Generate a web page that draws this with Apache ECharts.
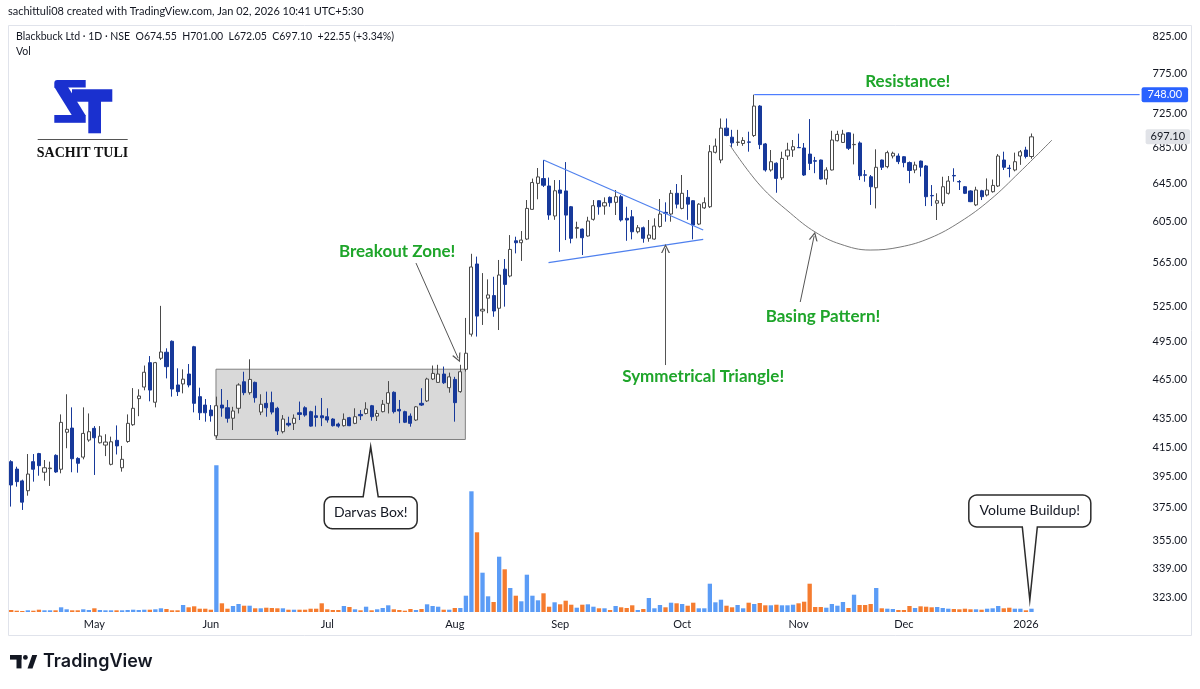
<!DOCTYPE html>
<html><head><meta charset="utf-8">
<script src="https://cdn.jsdelivr.net/npm/echarts@6/dist/echarts.min.js"></script>
<style>html,body{margin:0;padding:0;background:#fff;}#chart{width:1200px;height:689px;}</style>
</head><body><div id="chart"></div>
<script>
// ---------------- data ----------------
const firstDay = '2025-04-07';
const holidays = ['2025-04-10','2025-04-14','2025-04-18','2025-05-01','2025-08-15','2025-08-27','2025-10-02','2025-10-22','2025-11-05','2025-12-25'];
const blankSlots = 19;
const monthNames = ['Jan','Feb','Mar','Apr','May','Jun','Jul','Aug','Sep','Oct','Nov','Dec'];
const priceTicks = [825,775,725,685,645,605,565,525,495,465,435,415,395,375,355,339,323];

const open = [
405,400,392.2,385.8,405,410.5,397.9,400.3,409.3,399.9,
425.4,428.4,407.2,408.1,419.9,428.2,418,416.4,403.2,419.7,
400.9,418.9,430.8,450,458.8,477.9,447.3,481.4,486.3,495.3,
460.4,461.2,468.9,490.8,451.5,445.2,441.5,422.9,445.2,443.2,
435.5,442.8,462.9,454.5,462.4,440,446.5,447,442.8,425.8,
431.8,431.8,439.5,443.2,440.3,437.3,437.3,436.6,434.9,431.3,
430.1,435.9,431.8,438.3,439,444.7,437,440.3,446.5,454.8,
442,440.3,437.1,434.2,446.5,448.3,465,462.4,468.9,458.3,
464.7,455.3,472.6,501.2,563.6,521,532.3,534.6,523.4,558.7,
552.4,585.9,584,587.6,617.5,644.9,650.1,642.1,610.7,637.8,
636.8,620.2,598.2,597.5,590.6,607.3,626.5,621,630,624.8,
630.7,608.3,609.9,594.8,598.8,588.3,587.6,600.1,614.4,612.7,
634.3,618.5,630,626.5,602.5,619,620.2,679.3,670.6,707.3,
696.7,690.6,689.4,691.2,698.6,733.9,688.9,659.5,667,650.9,
675.1,681.9,684.8,684.2,677.3,669.8,670.6,649.6,659.5,692.6,
690.6,701.8,688,690,654.2,652.1,640.2,670.6,663.2,675.1,
675.1,674.3,667.7,659.5,669.4,664,632,623.9,623.9,634.3,
653.5,646.9,641.3,636.8,622.1,637,632.5,636,642.1,670.6,
661.6,659.5,675.1,681.9,674.55];
const close = [
389.5,391.7,378.5,396.7,399.9,402.3,400.9,400.7,398.1,432.5,
427.5,407,403.9,424.6,425.8,421.5,422.7,418.5,418.7,415.8,
406.6,431.8,442.8,452,470.3,456.5,477.9,486.5,474.7,457.3,
455.3,464.9,460.4,446.5,439.5,439.5,437.3,444.7,443,435.5,
440.8,460.4,454.5,464.7,450.7,445.8,443.2,440,426.3,434.9,
430.6,435.5,438.3,437.8,429.8,436.1,435.8,434.2,430.1,429.8,
434.7,430.1,436.6,437.3,442.3,436.6,439,445.8,454.5,440.3,
440.8,432.6,431.8,443.9,445.2,465,469.4,468.9,462.1,466.7,
447,470.7,485.5,560.8,516.6,522.5,535.2,521,553.3,544.7,
577.5,584,586.6,618.5,645.8,651.9,642.9,611.7,637,634.4,
611.6,588.3,599.1,588.9,605.6,621.3,620.2,624.4,624.4,630.7,
606.6,606.6,594.8,598.8,588.3,591.6,600.5,612.7,613.4,634.3,
622.9,634.3,622.9,601.5,622.9,624.4,680,686.4,707.3,698.6,
690.1,691,692.9,690.8,733.9,688.1,659.5,668.7,650.3,672.4,
681.9,685.7,684.5,654,666.8,669.3,649.6,659.5,693.4,700,
700.3,683.9,688.3,653.2,653.8,641.3,662.5,662.5,678.9,678.2,
668.8,667.7,659,665,662.5,630.7,631.6,626.5,641.3,647.4,
653,646.5,634.3,625.5,637.8,630.7,637.8,642.7,675.1,662.5,
661.2,668.7,679.9,674.55,697.1];
const low = [
375.7,388.4,373.6,382.6,391.7,395.6,392.3,388.9,397.5,397.2,
414.2,397.9,397.6,406.6,418.7,396.1,417.5,408.8,402.5,409.9,
398.3,418,430,437,456.3,448,443.5,480,465.5,451.5,
452,454,458.6,439.8,434.2,433,433,421.1,436.6,432.3,
427,439,452.6,453,447,437.8,436.6,438.3,423.5,424.6,
429.4,427,434.2,436.6,429.4,429.4,429.8,432.3,429.5,428.7,
429.5,429.8,431.2,434.2,438.3,433.7,433.5,439.8,439,439,
431.9,432,429.4,433.5,444.5,447.5,464.2,462.1,461.2,454.5,
433,454.5,470.9,499.2,499.2,509,519.1,516,504.7,524.8,
551.2,573.7,566.5,586.6,617,628,641,606.8,606.8,575.2,
586.6,583.4,588.3,572.1,590,606,612,612,620.2,611.7,
605,585.9,587.3,593.2,584,585,587,599,604.9,604.9,
618.5,617.5,606.8,587.3,601.5,618,619,678,667,697.8,
684.8,686.7,686.7,680,697,682.9,657.7,657.7,634.9,648.5,
670.6,674.1,684.2,653,659.5,656,649,643.5,659,691.8,
690,681.9,665.7,648.5,646.7,622.1,618.5,659.5,661.4,672.4,
666,662.5,645.1,656,652.4,620.9,620.9,606.6,620.9,633,
646.7,637.8,633.5,625,620.9,627.2,631,635,641,659.5,
651.5,658,665.2,672.4,672.05];
const high = [
406,401.6,393,410.2,410.2,411,406.1,405,410,438.3,
453.3,443.5,408,443.5,439,429.8,429.8,424,422.3,430.3,
415.8,438.3,458,457.1,475.6,483.2,478.5,525.5,489.5,496,
473.4,472.6,476.8,491.5,458.3,449.7,445.2,451.5,457.3,449,
443.9,461.7,470.7,480.6,463,453.3,455.3,455.3,443.9,437.8,
436.6,438.3,447.8,444.3,441,444.7,450.5,442.8,435.5,432.3,
439,436.5,442.8,441.5,447.3,445.3,441.5,449,463.4,455.5,
449,441,439,444.5,457.9,466,475.6,476.2,474.8,470,
466.7,476.2,515,573.3,570.6,555.1,549.3,551.7,567.4,568.3,
591.5,589.9,595.5,627.2,650.1,661.7,670.6,651.2,648.5,648.5,
668.3,621,604.9,598,609.9,627.2,627,630,631,637.8,
632.5,620.2,616.8,601.5,600,606.6,608.3,628.3,624.8,637.8,
644.2,654,637.8,627,623.9,630,687.5,695.1,718.8,718.8,
705.3,705.3,696.7,703.1,748,735,690,681.9,668,680,
690.2,693.4,700.8,689.9,718.1,674.1,671,662.5,704.2,704.2,
705.3,702.5,700.8,691.8,659.5,654,682.7,671,681.1,680,
678,675,669,668.7,670,665,643.1,634.3,652.1,652.9,
661.4,648.5,642,637.5,641.3,638,650.3,649.1,677.3,680,
665.2,678.9,681.9,685.6,701];
// volume, thousand shares
const volume = [
20,13,10,17,13,23,17,17,17,47,
27,17,17,27,20,37,20,17,17,17,
17,20,23,20,23,23,27,37,30,17,
17,70,47,57,33,33,23,1467,87,33,
60,80,63,63,37,37,43,40,37,37,
23,23,23,23,33,33,87,27,20,20,
60,50,27,17,53,17,27,40,67,27,
20,13,30,20,30,77,60,53,23,23,
40,40,163,1207,797,393,157,100,553,427,
240,163,107,373,163,117,187,53,97,77,
113,73,43,73,77,53,37,37,20,60,
47,40,67,20,30,140,37,70,47,93,
87,80,63,93,37,37,283,97,123,63,
47,70,37,93,80,90,67,67,73,67,
67,73,87,103,283,50,50,43,80,63,
100,40,173,70,70,80,240,37,33,30,
20,20,60,40,57,53,47,50,40,33,
30,27,33,27,27,23,33,37,60,37,
43,33,33,17,33];

// annotation geometry, in (bar index, price)
const triangleUpper = [[96.0, 670.6], [124.8, 596.5]];
const triangleLower = [[96.9, 564.9], [124.8, 587.2]];
const basingArc = [[129.6,687.6],[135.0,643.1],[140.5,613.7],[145.0,594.5],[149.5,582.7],[154.9,576.9],[160.3,579.8],[165.7,588.6],[171.1,604.6],[176.5,627.2],[181.9,657.3],[187.7,693.4]];
const darvasBox = [[36.93, 472.7], [81.9, 420.3]];
const arrows = [
  [[73.0, 564.5], [80.6, 481.5]],
  [[118.0, 476.0], [118.0, 578.5]],
  [[142.3, 528.9], [144.8, 590.5]]
];
const notes = [
  {text: 'Breakout Zone!', at: [69.6, 575.0]},
  {text: 'Symmetrical Triangle!', at: [124.8, 466.6]},
  {text: 'Basing Pattern!', at: [146.4, 515.8]},
  {text: 'Resistance!', at: [161.7, 765.2]}
];
const callouts = [
  {text: 'Darvas Box!', tip: [64.83, 415.3], side: 'top', w: 93, h: 32, gap: 50},
  {text: 'Volume Buildup!', tip: [183.7, 321.4], side: 'bottom', w: 122, h: 32, gap: 73}
];

// ---------------- build ----------------
const L = Math.log;
function tradingDays(start, n, hol) {
  const out = []; const d = new Date(start + 'T00:00:00Z');
  while (out.length < n) {
    const wd = d.getUTCDay(); const s = d.toISOString().slice(0, 10);
    if (wd !== 0 && wd !== 6 && hol.indexOf(s) < 0) out.push(s);
    d.setUTCDate(d.getUTCDate() + 1);
  }
  return out;
}
const dates = tradingDays(firstDay, close.length, holidays);
const categories = dates.concat(Array.from({length: blankSlots}, (_, k) => 'pad' + k));
const N = categories.length;
function monthLabel(idx) {
  if (idx <= 0 || idx >= dates.length) return null;
  const m = dates[idx].slice(5, 7), pm = dates[idx - 1].slice(5, 7);
  if (m === pm) return null;
  return m === '01' ? dates[idx].slice(0, 4) : monthNames[+m - 1];
}
const candles = dates.map((d, i) => [L(open[i]), L(close[i]), L(low[i]), L(high[i])]);
const volBars = volume.map((v, i) => ({value: v, itemStyle: {color: close[i] >= open[i] ? '#5b9cf6' : '#f57c2f'}}));
const resistance = Math.max.apply(null, high);
const resIdx = high.indexOf(resistance);
const last = close.length - 1;
const lastClose = close[last], prevClose = close[last - 1];
const chg = lastClose - prevClose, pct = chg / prevClose * 100;
const P = pts => pts.map(p => [p[0], L(p[1])]);
const uiFont = 'Lato';
const gridLeft = 8.43, gridRight = 60.4, gridTop = 25, gridBottom = 77;

const chart = echarts.init(document.getElementById('chart'), null, {renderer: 'canvas'});
const overlayBase = {type: 'line', xAxisIndex: 1, yAxisIndex: 0, symbol: 'none', silent: true, animation: false};
const option = {
  animation: false,
  backgroundColor: '#ffffff',
  grid: {left: gridLeft, right: gridRight, top: gridTop, bottom: gridBottom, containLabel: false},
  xAxis: [
    {type: 'category', data: categories, boundaryGap: true,
     axisLine: {show: false}, axisTick: {show: false}, splitLine: {show: false},
     axisLabel: {interval: (idx) => monthLabel(idx) !== null, formatter: (v, idx) => monthLabel(idx) || '',
                 color: '#131722', fontSize: 11, fontFamily: uiFont, margin: 7}},
    {type: 'value', min: -0.5, max: N - 0.5, show: false}
  ],
  yAxis: [
    {type: 'value', position: 'right', min: L(315.0), max: L(840.4), scale: true,
     axisLine: {show: false}, axisTick: {show: false}, splitLine: {show: false},
     axisLabel: {customValues: priceTicks.map(L), formatter: v => Math.exp(v).toFixed(2),
                 color: '#131722', fontSize: 11, fontFamily: uiFont, margin: 13}},
    {type: 'value', min: 0, max: 5870, show: false}
  ],
  series: [
    Object.assign({}, overlayBase, {name: 'box', z: 0, data: P([darvasBox[0]]), lineStyle: {width: 0},
      markArea: {silent: true, itemStyle: {color: '#d9d9d9', borderColor: '#808080', borderWidth: 1},
        data: [[{coord: [darvasBox[0][0], L(darvasBox[0][1])]}, {coord: [darvasBox[1][0], L(darvasBox[1][1])]}]]}}),
    {type: 'bar', xAxisIndex: 0, yAxisIndex: 1, data: volBars, barWidth: '78%', z: 1, silent: true},
    {type: 'candlestick', xAxisIndex: 0, yAxisIndex: 0, data: candles, barWidth: 3.6, z: 3, silent: true,
     itemStyle: {color: '#ffffff', color0: '#17399a', borderColor: '#4a4a4a', borderColor0: '#17399a', borderWidth: 1}},
    Object.assign({}, overlayBase, {name: 'res', z: 4, data: [[resIdx, L(resistance)], [N - 0.5, L(resistance)]],
      lineStyle: {color: '#2962ff', width: 1},
      endLabel: {show: true, formatter: resistance.toFixed(2), color: '#fff', backgroundColor: '#2962ff',
        padding: [2, 6], fontSize: 11, fontFamily: uiFont, distance: 2, borderRadius: 2}}),
    Object.assign({}, overlayBase, {name: 'last', z: 4, data: [[last, L(lastClose)], [N - 0.5, L(lastClose)]],
      lineStyle: {opacity: 0},
      endLabel: {show: true, formatter: lastClose.toFixed(2), color: '#131722', backgroundColor: '#e1e3e8',
        padding: [2, 5], fontSize: 11, fontFamily: uiFont, distance: 6, borderRadius: 2}}),
    Object.assign({}, overlayBase, {name: 'triU', z: 4, data: P(triangleUpper), lineStyle: {color: '#4f80ee', width: 1.2}}),
    Object.assign({}, overlayBase, {name: 'triL', z: 4, data: P(triangleLower), lineStyle: {color: '#4f80ee', width: 1.2}}),
    Object.assign({}, overlayBase, {name: 'arc', z: 4, data: P(basingArc), smooth: 0.4, lineStyle: {color: '#7a7a7a', width: 1}}),
    Object.assign({}, overlayBase, {name: 'arrows', z: 4, data: [],
      markLine: {silent: true, symbol: ['none', 'path://M5,0L10,9L8.5,9L5,2.6L1.5,9L0,9Z'], symbolSize: [9, 9],
        lineStyle: {color: '#555', width: 1, type: 'solid'}, label: {show: false},
        data: arrows.map(a => [{coord: [a[0][0], L(a[0][1])]}, {coord: [a[1][0], L(a[1][1])]}])}})
  ]
};
chart.setOption(option);

// ---------------- graphics (text, logo, annotations) ----------------
const overlayIdx = 5;
const toPx = (pt) => chart.convertToPixel({seriesIndex: overlayIdx}, [pt[0], L(pt[1])]);
function calloutPts(left, top, right, bottom, r, tail) {
  const pts = [];
  const arc = (cx, cy, a0, a1) => { for (let k = 0; k <= 5; k++) { const a = a0 + (a1 - a0) * k / 5; pts.push([cx + r * Math.cos(a), cy + r * Math.sin(a)]); } };
  arc(left + r, top + r, Math.PI, 1.5 * Math.PI);
  if (tail.side === 'top') pts.push([tail.x0, top], [tail.tx, tail.ty], [tail.x1, top]);
  arc(right - r, top + r, 1.5 * Math.PI, 2 * Math.PI);
  arc(right - r, bottom - r, 0, 0.5 * Math.PI);
  if (tail.side === 'bottom') pts.push([tail.x1, bottom], [tail.tx, tail.ty], [tail.x0, bottom]);
  arc(left + r, bottom - r, 0.5 * Math.PI, Math.PI);
  return pts;
}
const g = [];
// outer frame
g.push({type: 'rect', shape: {x: 8.5, y: 25.5, width: 1183, height: 610}, style: {fill: 'none', stroke: '#e0e3eb', lineWidth: 1}, z: 0, silent: true});
// header
g.push({type: 'text', x: 8, y: 11, style: {text: 'sachittuli08 created with TradingView.com, Jan 02, 2026 10:41 UTC+5:30', fill: '#131722', font: '11px ' + uiFont, textVerticalAlign: 'middle'}});
g.push({type: 'text', x: 16, y: 37, style: {text: 'Blackbuck Ltd \u00b7 1D \u00b7 NSE  O' + open[last].toFixed(2) + '  H' + high[last].toFixed(2) + '  L' + low[last].toFixed(2) + '  C' + lastClose.toFixed(2) + '  +' + chg.toFixed(2) + ' (+' + pct.toFixed(2) + '%)', fill: '#131722', font: '10.5px ' + uiFont, textVerticalAlign: 'middle'}});
g.push({type: 'text', x: 16, y: 52, style: {text: 'Vol', fill: '#131722', font: '10.5px ' + uiFont, textVerticalAlign: 'middle'}});
// logo
const blue = '#1a30cf';
g.push({type: 'rect', shape: {x: 54.3, y: 80, width: 31.4, height: 7.5, r: [3, 0, 0, 0]}, style: {fill: blue}});
g.push({type: 'polygon', shape: {points: [[54.3, 87], [68, 87], [85.7, 115.5], [72, 115.5]]}, style: {fill: blue}});
g.push({type: 'rect', shape: {x: 54.3, y: 115, width: 31.4, height: 7.8}, style: {fill: blue}});
g.push({type: 'rect', shape: {x: 72, y: 89.3, width: 40.3, height: 12.4}, style: {fill: blue}});
g.push({type: 'rect', shape: {x: 88.3, y: 101, width: 12.7, height: 32.3}, style: {fill: blue}});
g.push({type: 'line', shape: {x1: 37.7, y1: 139.5, x2: 127.7, y2: 139.5}, style: {stroke: '#555', lineWidth: 1}});
g.push({type: 'text', x: 82.5, y: 153.5, style: {text: 'SACHIT TULI', fill: '#111', font: 'bold 14px "Liberation Serif"', textAlign: 'center', textVerticalAlign: 'middle'}});
// TradingView footer logo
g.push({type: 'rect', shape: {x: 10, y: 655, width: 11.5, height: 4.6}, style: {fill: '#131722'}});
g.push({type: 'rect', shape: {x: 16.5, y: 655, width: 5, height: 13.4}, style: {fill: '#131722'}});
g.push({type: 'circle', shape: {cx: 25.4, cy: 657.4, r: 2.4}, style: {fill: '#131722'}});
g.push({type: 'polygon', shape: {points: [[27.5, 668.4], [32.2, 655], [37.2, 655], [32.5, 668.4]]}, style: {fill: '#131722'}});
g.push({type: 'text', x: 43, y: 662, style: {text: 'TradingView', fill: '#131722', font: '600 18px Inter', textVerticalAlign: 'middle'}});
// green notes
notes.forEach(n => {
  const p = toPx(n.at);
  g.push({type: 'text', x: p[0], y: p[1], z: 10, style: {text: n.text, fill: '#1ea52a', font: 'bold 17px ' + uiFont, textAlign: 'center', textVerticalAlign: 'middle'}});
});
// callouts
callouts.forEach(c => {
  const t = toPx(c.tip);
  const left = t[0] - c.w / 2, right = t[0] + c.w / 2;
  let top, bottom;
  if (c.side === 'top') { top = t[1] + c.gap; bottom = top + c.h; }
  else { bottom = t[1] - c.gap; top = bottom - c.h; }
  const pts = calloutPts(left, top, right, bottom, 8, {side: c.side, x0: t[0] - 7.5, x1: t[0] + 7.5, tx: t[0], ty: t[1]});
  g.push({type: 'polygon', z: 10, shape: {points: pts}, style: {fill: '#ffffff', stroke: '#2b2b2b', lineWidth: 1.5}});
  g.push({type: 'text', z: 11, x: t[0], y: (top + bottom) / 2, style: {text: c.text, fill: '#131722', font: '14px ' + uiFont, textAlign: 'center', textVerticalAlign: 'middle'}});
});
chart.setOption({graphic: g});
</script>
</body></html>
